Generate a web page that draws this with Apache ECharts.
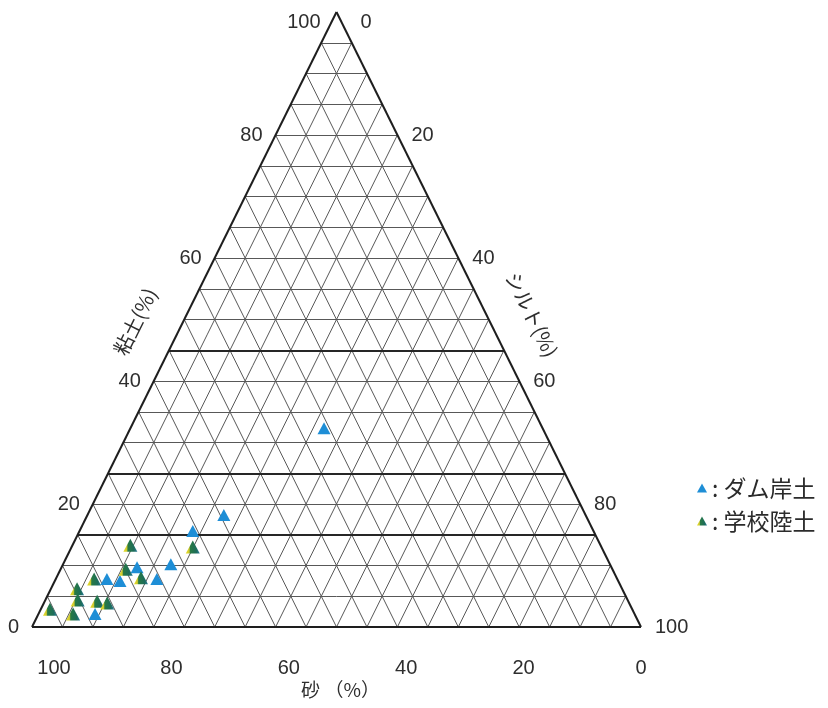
<!DOCTYPE html>
<html>
<head>
<meta charset="utf-8">
<script src="https://cdn.jsdelivr.net/npm/echarts@6/dist/echarts.min.js"></script>
<style>
  html, body { margin: 0; padding: 0; background: #ffffff; }
  #chart { width: 828px; height: 708px; }
</style>
</head>
<body>
<div id="chart"></div>
<script>
// Particle-size composition (%) of each sample: sand, silt, clay
const damSand = [35.9, 59.4, 65.8, 72.1, 75.6, 77.9, 83.8, 81.8, 88.6];
const damSilt = [31.8, 22.4, 18.6, 17.7, 16.6, 12.4, 8.4, 10.7, 9.3];
const damClay = [32.3, 18.2, 15.6, 10.2, 7.8, 9.7, 7.8, 7.5, 2.1];

const schoolSand = [67.1, 77.2, 79.9, 85.9, 78.1, 89.5, 90.3, 87.2, 85.7, 95.6, 92.2];
const schoolSilt = [19.9, 9.5, 10.7, 6.3, 13.9, 4.3, 5.3, 8.6, 10.4, 1.5, 5.7];
const schoolClay = [13.0, 13.3, 9.4, 7.8, 8.0, 6.2, 4.4, 4.2, 3.9, 2.9, 2.1];

const seriesNames = ['ダム岸土', '学校陸土'];
const tickValues = [0, 20, 40, 60, 80, 100];
const gridStep = 5;
const boundaryClay = [15, 25, 45];
const titleSand = '砂 （%）';
const titleSilt = 'シルト(%)';
const titleClay = '粘土(%)';

// Ternary (sand, silt, clay) -> plane coordinates on 0..100 axes
function toXY(sand, silt, clay) {
  return [silt + clay / 2, clay];
}

const gridSegments = [];
for (let k = gridStep; k < 100; k += gridStep) {
  gridSegments.push({ coords: [toXY(100 - k, 0, k), toXY(0, 100 - k, k)] });   // constant clay
  gridSegments.push({ coords: [toXY(k, 100 - k, 0), toXY(k, 0, 100 - k)] });   // constant sand
  gridSegments.push({ coords: [toXY(100 - k, k, 0), toXY(0, k, 100 - k)] });   // constant silt
}
const boundarySegments = boundaryClay.map(c => ({ coords: [toXY(100 - c, 0, c), toXY(0, 100 - c, c)] }));
const cornerSand = toXY(100, 0, 0), cornerSilt = toXY(0, 100, 0), cornerClay = toXY(0, 0, 100);
const outlineSegments = [
  { coords: [cornerSand, cornerSilt] },
  { coords: [cornerSilt, cornerClay] },
  { coords: [cornerClay, cornerSand] }
];

const damPoints = damSand.map((s, i) => toXY(s, damSilt[i], damClay[i]));
const schoolPoints = schoolSand.map((s, i) => toXY(s, schoolSilt[i], schoolClay[i]));

const schoolFill = {
  type: 'linear', x: 0, y: 0, x2: 1, y2: 0,
  colorStops: [
    { offset: 0, color: '#e8de22' },
    { offset: 0.24, color: '#cfca30' },
    { offset: 0.33, color: '#287a44' },
    { offset: 0.75, color: '#1d6c5a' },
    { offset: 1, color: '#2a7c9c' }
  ]
};

const chart = echarts.init(document.getElementById('chart'), null, { renderer: 'canvas' });

chart.setOption({
  animation: false,
  backgroundColor: '#ffffff',
  grid: { left: 32, right: 187, top: 12, bottom: 81 },
  xAxis: { type: 'value', min: 0, max: 100, show: false },
  yAxis: { type: 'value', min: 0, max: 100, show: false },
  legend: {
    orient: 'vertical',
    left: 692,
    top: 471,
    itemWidth: 10,
    itemHeight: 9,
    itemGap: 9,
    icon: 'triangle',
    data: seriesNames,
    formatter: name => ': ' + name,
    textStyle: {
      fontFamily: 'Noto Sans CJK JP',
      fontSize: 23,
      lineHeight: 24,
      color: '#2b2b2b',
      padding: [0, 0, 0, 0]
    }
  },
  series: [
    {
      type: 'lines', coordinateSystem: 'cartesian2d', silent: true,
      data: gridSegments,
      lineStyle: { color: '#585858', width: 1, opacity: 1 }
    },
    {
      type: 'lines', coordinateSystem: 'cartesian2d', silent: true,
      data: boundarySegments,
      lineStyle: { color: '#262626', width: 2, opacity: 1 }
    },
    {
      type: 'lines', coordinateSystem: 'cartesian2d', silent: true,
      data: outlineSegments,
      lineStyle: { color: '#1e1e1e', width: 2, opacity: 1 }
    },
    {
      name: seriesNames[0], type: 'scatter', symbol: 'triangle', symbolSize: [13, 12],
      data: damPoints,
      itemStyle: { color: '#1e8ed6', opacity: 1 }
    },
    {
      name: seriesNames[1], type: 'scatter', symbol: 'triangle', symbolSize: [14, 13],
      data: schoolPoints,
      itemStyle: { color: schoolFill, opacity: 1 }
    }
  ]
});

// Tick labels and axis titles placed from the grid's own coordinate mapping
const px = xy => chart.convertToPixel({ gridIndex: 0 }, xy);
const numFont = { fontFamily: 'Liberation Sans', fontSize: 20, fill: '#2e2e2e' };
const cjkFont = { fontFamily: 'Noto Sans CJK JP', fontSize: 20, fill: '#2e2e2e' };
const graphics = [];

tickValues.forEach(v => {
  // clay along the left edge
  const pc = px(toXY(100 - v, 0, v));
  graphics.push({
    type: 'text', x: pc[0] - (v === 100 ? 16 : 13), y: pc[1] + (v === 100 ? 10 : 0),
    style: Object.assign({ text: String(v), align: 'right', verticalAlign: 'middle' }, numFont)
  });
  // silt along the right edge
  const ps = px(toXY(0, v, 100 - v));
  graphics.push({
    type: 'text', x: ps[0] + (v === 0 ? 24 : 14), y: ps[1] + (v === 0 ? 10 : 0),
    style: Object.assign({ text: String(v), align: 'left', verticalAlign: 'middle' }, numFont)
  });
  // sand along the base
  const pb = px(toXY(v, 100 - v, 0));
  graphics.push({
    type: 'text', x: pb[0] + 22 * v / 100, y: pb[1] + 41,
    style: Object.assign({ text: String(v), align: 'center', verticalAlign: 'middle' }, numFont)
  });
});

const pS = px(cornerSand), pT = px(cornerSilt), pC = px(cornerClay);
const leftAngle = Math.atan2(pS[1] - pC[1], pC[0] - pS[0]);
const rightAngle = -Math.atan2(pT[1] - pC[1], pT[0] - pC[0]);

const baseMid = px(toXY(50, 50, 0));
graphics.push({
  type: 'text', x: baseMid[0] + 4, y: baseMid[1] + 63,
  style: Object.assign({ text: titleSand, align: 'center', verticalAlign: 'middle' }, cjkFont, { fontSize: 19 })
});
const leftMid = px(toXY(50, 0, 50));
graphics.push({
  type: 'text', x: leftMid[0] - 49, y: leftMid[1] + 2, rotation: leftAngle,
  style: Object.assign({ text: titleClay, align: 'center', verticalAlign: 'middle' }, cjkFont)
});
const rightMid = px(toXY(0, 50, 50));
graphics.push({
  type: 'text', x: rightMid[0] + 43, y: rightMid[1] - 5, rotation: rightAngle,
  style: Object.assign({ text: titleSilt, align: 'center', verticalAlign: 'middle' }, cjkFont)
});

chart.setOption({ graphic: graphics });
</script>
</body>
</html>
